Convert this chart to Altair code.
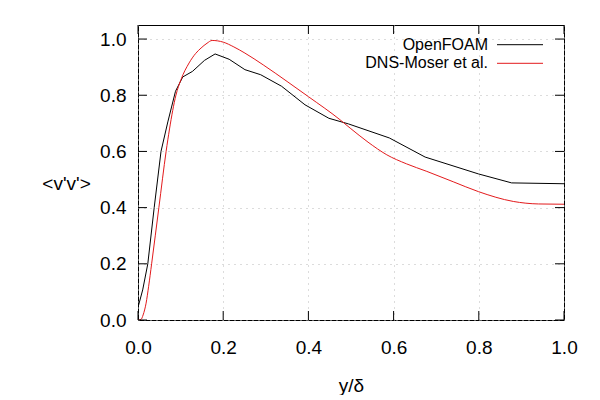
import pandas as pd
import altair as alt

series_names = ["OpenFOAM", "DNS-Moser et al."]
series_colors = ["#000000", "#e31a1c"]

# OpenFOAM profile
of_x = [0.0, 0.011, 0.023, 0.038, 0.054, 0.07, 0.088, 0.105, 0.128, 0.156, 0.181,
        0.214, 0.251, 0.288, 0.337, 0.392, 0.448, 0.494, 0.59, 0.674, 0.799, 0.877, 1.0]
of_y = [0.045, 0.107, 0.2, 0.4, 0.6, 0.705, 0.814, 0.865, 0.885, 0.924, 0.947,
        0.928, 0.891, 0.873, 0.832, 0.766, 0.718, 0.698, 0.648, 0.58, 0.52, 0.488, 0.485]

# DNS profile
dns_x = [0.0, 0.007, 0.012, 0.019, 0.025, 0.032, 0.049, 0.066, 0.074, 0.089, 0.101,
         0.12, 0.135, 0.148, 0.162, 0.174, 0.2, 0.225, 0.251, 0.294, 0.35, 0.4,
         0.474, 0.498, 0.54, 0.584, 0.63, 0.678, 0.74, 0.799, 0.881, 0.94, 1.0]
dns_y = [0.0, 0.002, 0.018, 0.06, 0.12, 0.2, 0.4, 0.6, 0.68, 0.8, 0.856,
         0.915, 0.948, 0.968, 0.985, 0.995, 0.989, 0.972, 0.950, 0.908, 0.849, 0.795,
         0.713, 0.683, 0.633, 0.588, 0.556, 0.529, 0.492, 0.457, 0.422, 0.413, 0.412]

x_ticks = [0.0, 0.2, 0.4, 0.6, 0.8, 1.0]
y_ticks = [0.0, 0.2, 0.4, 0.6, 0.8, 1.0]

W = 426
H = 295
FONT = "Liberation Sans"

of_df = pd.DataFrame({"x": of_x, "y": of_y, "series": series_names[0]})
dns_df = pd.DataFrame({"x": dns_x, "y": dns_y, "series": series_names[1]})

xs = alt.Scale(domain=[0, 1], nice=False)
ys = alt.Scale(domain=[0, 1.05], nice=False)
color = alt.Color("series:N", scale=alt.Scale(domain=series_names, range=series_colors), legend=None)

x_enc = alt.X("x:Q", scale=xs, title="y/δ",
              axis=alt.Axis(values=x_ticks, format=".1f", ticks=False, domain=False,
                            labelFlush=False, labelFontSize=19, labelPadding=18, labelColor="black",
                            titleFontSize=19, titleFontWeight="normal", titleColor="black",
                            titleBaseline="alphabetic", titleY=71,
                            gridDash=[1, 5], gridColor="#b8b8b8"))
y_enc = alt.Y("y:Q", scale=ys, title="<v'v'>",
              axis=alt.Axis(values=y_ticks, format=".1f", ticks=False, domain=False,
                            labelFontSize=19, labelPadding=12, labelColor="black",
                            titleFontSize=19, titleFontWeight="normal", titleColor="black",
                            titleAngle=0, titleAlign="center", titleBaseline="middle",
                            titleX=-72, titleY=158,
                            gridDash=[1, 5], gridColor="#b8b8b8"))

of_line = alt.Chart(of_df).mark_line(strokeWidth=1, clip=True).encode(
    x=x_enc, y=y_enc, color=color, order="x:Q")
dns_line = alt.Chart(dns_df).mark_line(strokeWidth=1, clip=True, interpolate="monotone").encode(
    x=x_enc, y=y_enc, color=color, order="x:Q")

# inward ticks on all four sides, gnuplot style
xt = pd.DataFrame({"v": x_ticks})
yt = pd.DataFrame({"v": y_ticks})
tick_bottom = alt.Chart(xt).mark_rule(color="black").encode(
    x=alt.X("v:Q", scale=xs), y=alt.value(H), y2=alt.value(H - 9))
tick_top = alt.Chart(xt).mark_rule(color="black").encode(
    x=alt.X("v:Q", scale=xs), y=alt.value(0), y2=alt.value(9))
tick_left = alt.Chart(yt).mark_rule(color="black").encode(
    y=alt.Y("v:Q", scale=ys), x=alt.value(0), x2=alt.value(9))
tick_right = alt.Chart(yt).mark_rule(color="black").encode(
    y=alt.Y("v:Q", scale=ys), x=alt.value(W), x2=alt.value(W - 9))

# key, top right inside the frame
key = []
for i, name in enumerate(series_names):
    ky = 19.7 + i * 18.6
    kd = pd.DataFrame({"label": [name]})
    key.append(alt.Chart(kd).mark_text(align="right", baseline="middle", fontSize=16,
                                       font=FONT, color="black").encode(
        x=alt.value(350), y=alt.value(ky), text="label:N"))
    key.append(alt.Chart(kd).mark_rule(color=series_colors[i], strokeWidth=1).encode(
        x=alt.value(359), x2=alt.value(405), y=alt.value(ky)))

chart = alt.layer(of_line, dns_line, tick_bottom, tick_top, tick_left, tick_right, *key).properties(
    width=W, height=H,
    autosize=alt.AutoSizeParams(type="none"),
    padding={"left": 130, "top": 17, "right": 20, "bottom": 75},
    background="white",
).configure_view(
    stroke="black", strokeWidth=1
).configure_axis(
    labelFont=FONT, titleFont=FONT
)

chart.save("out.html", embed_options={"renderer": "svg", "actions": False})
